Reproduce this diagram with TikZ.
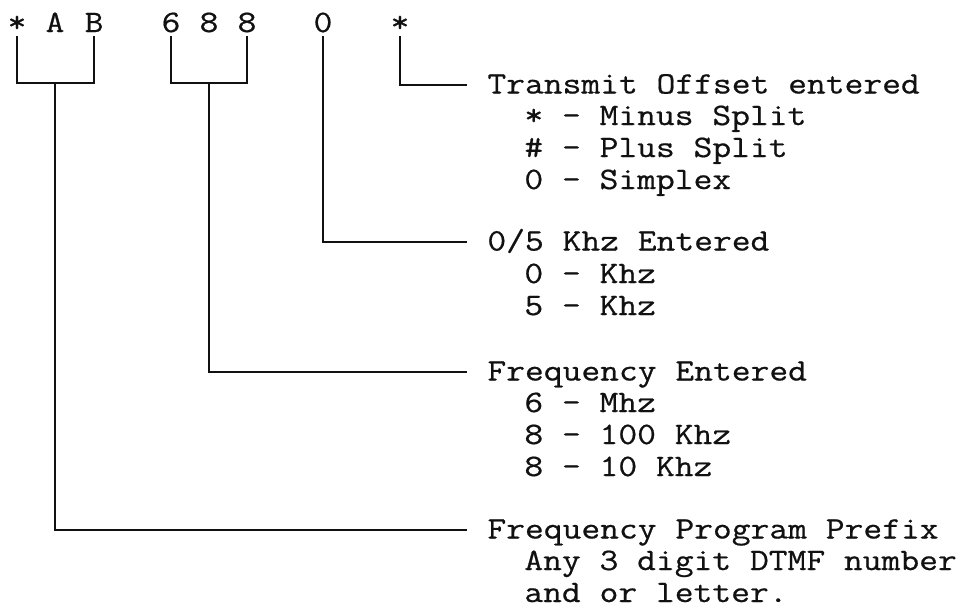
\documentclass[tikz,border=0pt]{standalone}
\usepackage{fontspec}
\usepackage{tikz}
\usetikzlibrary{positioning,calc}
\newfontfamily\dtmfmono[FakeStretch=1.17,FakeBold=0.6]{Latin Modern Mono}
\newcommand{\dtmf}{\dtmfmono\fontsize{15.6}{16}\selectfont}
\definecolor{ink}{HTML}{111111}

\begin{document}
\begin{tikzpicture}[x=0.5pt,y=-0.5pt,
  key/.style={font=\dtmf,text=ink,anchor=base,inner sep=0pt,outer sep=2pt},
  head/.style={font=\dtmf,text=ink,anchor=west,inner xsep=10pt,inner ysep=0pt,
    text height=9.5pt,text depth=1pt},
  item/.style={font=\dtmf,text=ink,anchor=base west,inner sep=0pt},
  wire/.style={draw=ink,line width=1pt}]
  \useasboundingbox (0,0) rectangle (970,607);
  % code keyed in
  \node[key] (s1) at (17,32) {*};
  \node[key] (a) at (55,32) {A};
  \node[key] (b) at (94,32) {B};
  \node[key] (six) at (171,32) {6};
  \node[key] (eightA) at (209,32) {8};
  \node[key] (eightB) at (247,32) {8};
  \node[key] (zero) at (323,32) {0};
  \node[key] (s2) at (400,32) {*};
  % explanations
  \node[head] (tx) at (467,85) {Transmit Offset entered};
  \node[item] (tx1) at (524,125) {* - Minus Split};
  \node[item] (tx2) at (524,157) {\# - Plus Split};
  \node[item] (tx3) at (524,189) {0 - Simplex};
  \node[head] (khz) at (467,242) {0/5 Khz Entered};
  \node[item] (khz1) at (524,283) {0 - Khz};
  \node[item] (khz2) at (524,315) {5 - Khz};
  \node[head] (freq) at (467,372) {Frequency Entered};
  \node[item] (freq1) at (524,412) {6 - Mhz};
  \node[item] (freq2) at (524,444) {8 - 100 Khz};
  \node[item] (freq3) at (524,476) {8 - 10 Khz};
  \node[head] (pfx) at (467,530) {Frequency Program Prefix};
  \node[item] (pfx1) at (524,570) {Any 3 digit DTMF number};
  \node[item] (pfx2) at (524,602) {and or letter.};
  % brackets and leaders
  \draw[wire] (s1.south) -- ++(0,47) -| (b.south);
  \draw[wire] (a |- 0,83) |- (pfx.west);
  \draw[wire] (six.south) -- ++(0,47) -| (eightB.south);
  \draw[wire] (eightA |- 0,83) |- (freq.west);
  \draw[wire] (zero.south) |- (khz.west);
  \draw[wire] (s2.south) |- (tx.west);
\end{tikzpicture}
\end{document}
